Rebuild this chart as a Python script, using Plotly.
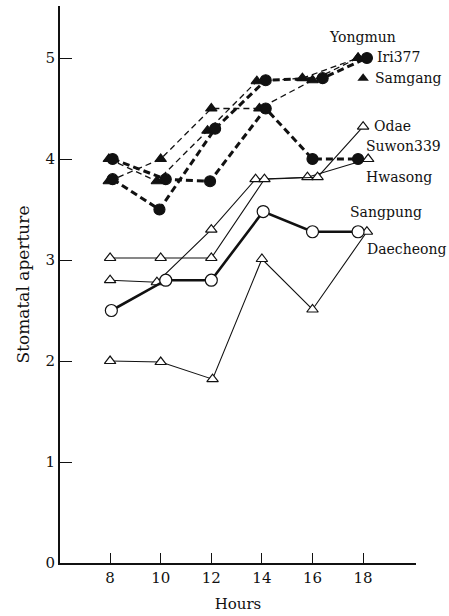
import plotly.graph_objects as go

# Data (hours slightly offset as in the original plot)
yongmun_x = [7.95, 9.85, 11.85, 13.8, 15.6, 17.8]
yongmun_y = [4.0, 3.78, 4.28, 4.77, 4.8, 5.0]

samgang_x = [7.95, 10.0, 12.0, 13.9, 16.0, 17.8]
samgang_y = [3.78, 4.0, 4.5, 4.5, 4.78, 5.0]
samgang_end_x = [18.0]
samgang_end_y = [4.8]

iri377_x = [8.1, 9.95, 12.15, 14.15, 16.4, 18.15]
iri377_y = [3.8, 3.5, 4.3, 4.78, 4.8, 5.0]

suwon339_x = [8.1, 10.2, 11.95, 14.15, 16.0, 17.8]
suwon339_y = [4.0, 3.8, 3.78, 4.5, 4.0, 4.0]

odae_x = [8.0, 10.0, 12.0, 14.1, 16.2, 18.0]
odae_y = [3.02, 3.02, 3.02, 3.8, 3.82, 4.32]

hwasong_x = [8.0, 9.85, 12.0, 13.75, 15.8, 18.2]
hwasong_y = [2.8, 2.78, 3.3, 3.8, 3.82, 4.0]

sangpung_x = [8.05, 10.2, 12.0, 14.05, 16.0, 17.8]
sangpung_y = [2.5, 2.8, 2.8, 3.48, 3.28, 3.28]

daecheong_x = [8.0, 10.0, 12.05, 14.0, 16.0, 18.15]
daecheong_y = [2.0, 1.99, 1.82, 3.01, 2.51, 3.28]

x_ticks = [8, 10, 12, 14, 16, 18]
y_ticks = [0, 1, 2, 3, 4, 5]

FONT = "DejaVu Serif"
BLACK = "#111111"

fig = go.Figure()

def add(x, y, symbol, size, width, dash, open_marker=False):
    fig.add_trace(go.Scatter(
        x=x, y=y, mode="lines+markers",
        line=dict(color=BLACK, width=width, dash=dash),
        marker=dict(symbol=symbol, size=size,
                    color="white" if open_marker else BLACK,
                    line=dict(color=BLACK, width=1.2)),
        showlegend=False, cliponaxis=False))

add(daecheong_x, daecheong_y, "triangle-up", 10, 1.1, "solid", True)
add(hwasong_x, hwasong_y, "triangle-up", 10, 1.1, "solid", True)
add(odae_x, odae_y, "triangle-up", 10, 1.1, "solid", True)
add(sangpung_x, sangpung_y, "circle", 12, 2.6, "solid", True)
add(samgang_x, samgang_y, "triangle-up", 10, 1.3, "6px,4px")
add(yongmun_x, yongmun_y, "triangle-up", 10, 1.3, "6px,4px")
add(suwon339_x, suwon339_y, "circle", 11, 3.0, "7px,4px")
add(iri377_x, iri377_y, "circle", 11, 3.0, "7px,4px")

fig.add_trace(go.Scatter(
    x=samgang_end_x, y=samgang_end_y, mode="markers",
    marker=dict(symbol="triangle-up", size=10, color=BLACK),
    showlegend=False, cliponaxis=False))

labels = [
    ("Yongmun", 17.96, 5.21, "center"),
    ("Iri377", 18.45, 5.01, "left"),
    ("Samgang", 18.38, 4.8, "left"),
    ("Odae", 18.34, 4.33, "left"),
    ("Suwon339", 18.05, 4.13, "left"),
    ("Hwasong", 18.02, 3.82, "left"),
    ("Sangpung", 17.42, 3.48, "left"),
    ("Daecheong", 18.06, 3.11, "left"),
]
for text, x, y, anchor in labels:
    fig.add_annotation(x=x, y=y, text=text, showarrow=False,
                       xanchor=anchor, yanchor="middle",
                       font=dict(family=FONT, size=14, color=BLACK))

fig.update_layout(
    width=449, height=616,
    margin=dict(l=60, r=33, t=6, b=53),
    paper_bgcolor="white", plot_bgcolor="white",
    font=dict(family=FONT, size=15, color=BLACK),
    xaxis=dict(range=[6.02, 20.09], tickvals=x_ticks, ticks="inside",
               ticklen=10, tickwidth=1.2, tickcolor=BLACK,
               showline=True, linecolor=BLACK, linewidth=2,
               showgrid=False, zeroline=False,
               title=dict(text="Hours", font=dict(family=FONT, size=15), standoff=12),
               tickfont=dict(family=FONT, size=15)),
    yaxis=dict(range=[0, 5.515], tickvals=y_ticks, ticks="inside",
               ticklen=12, tickwidth=1.2, tickcolor=BLACK,
               showline=True, linecolor=BLACK, linewidth=2,
               showgrid=False, zeroline=False,
               title=dict(text="Stomatal aperture", font=dict(family=FONT, size=17), standoff=12),
               tickfont=dict(family=FONT, size=15)),
)

fig.write_html("out.html")
